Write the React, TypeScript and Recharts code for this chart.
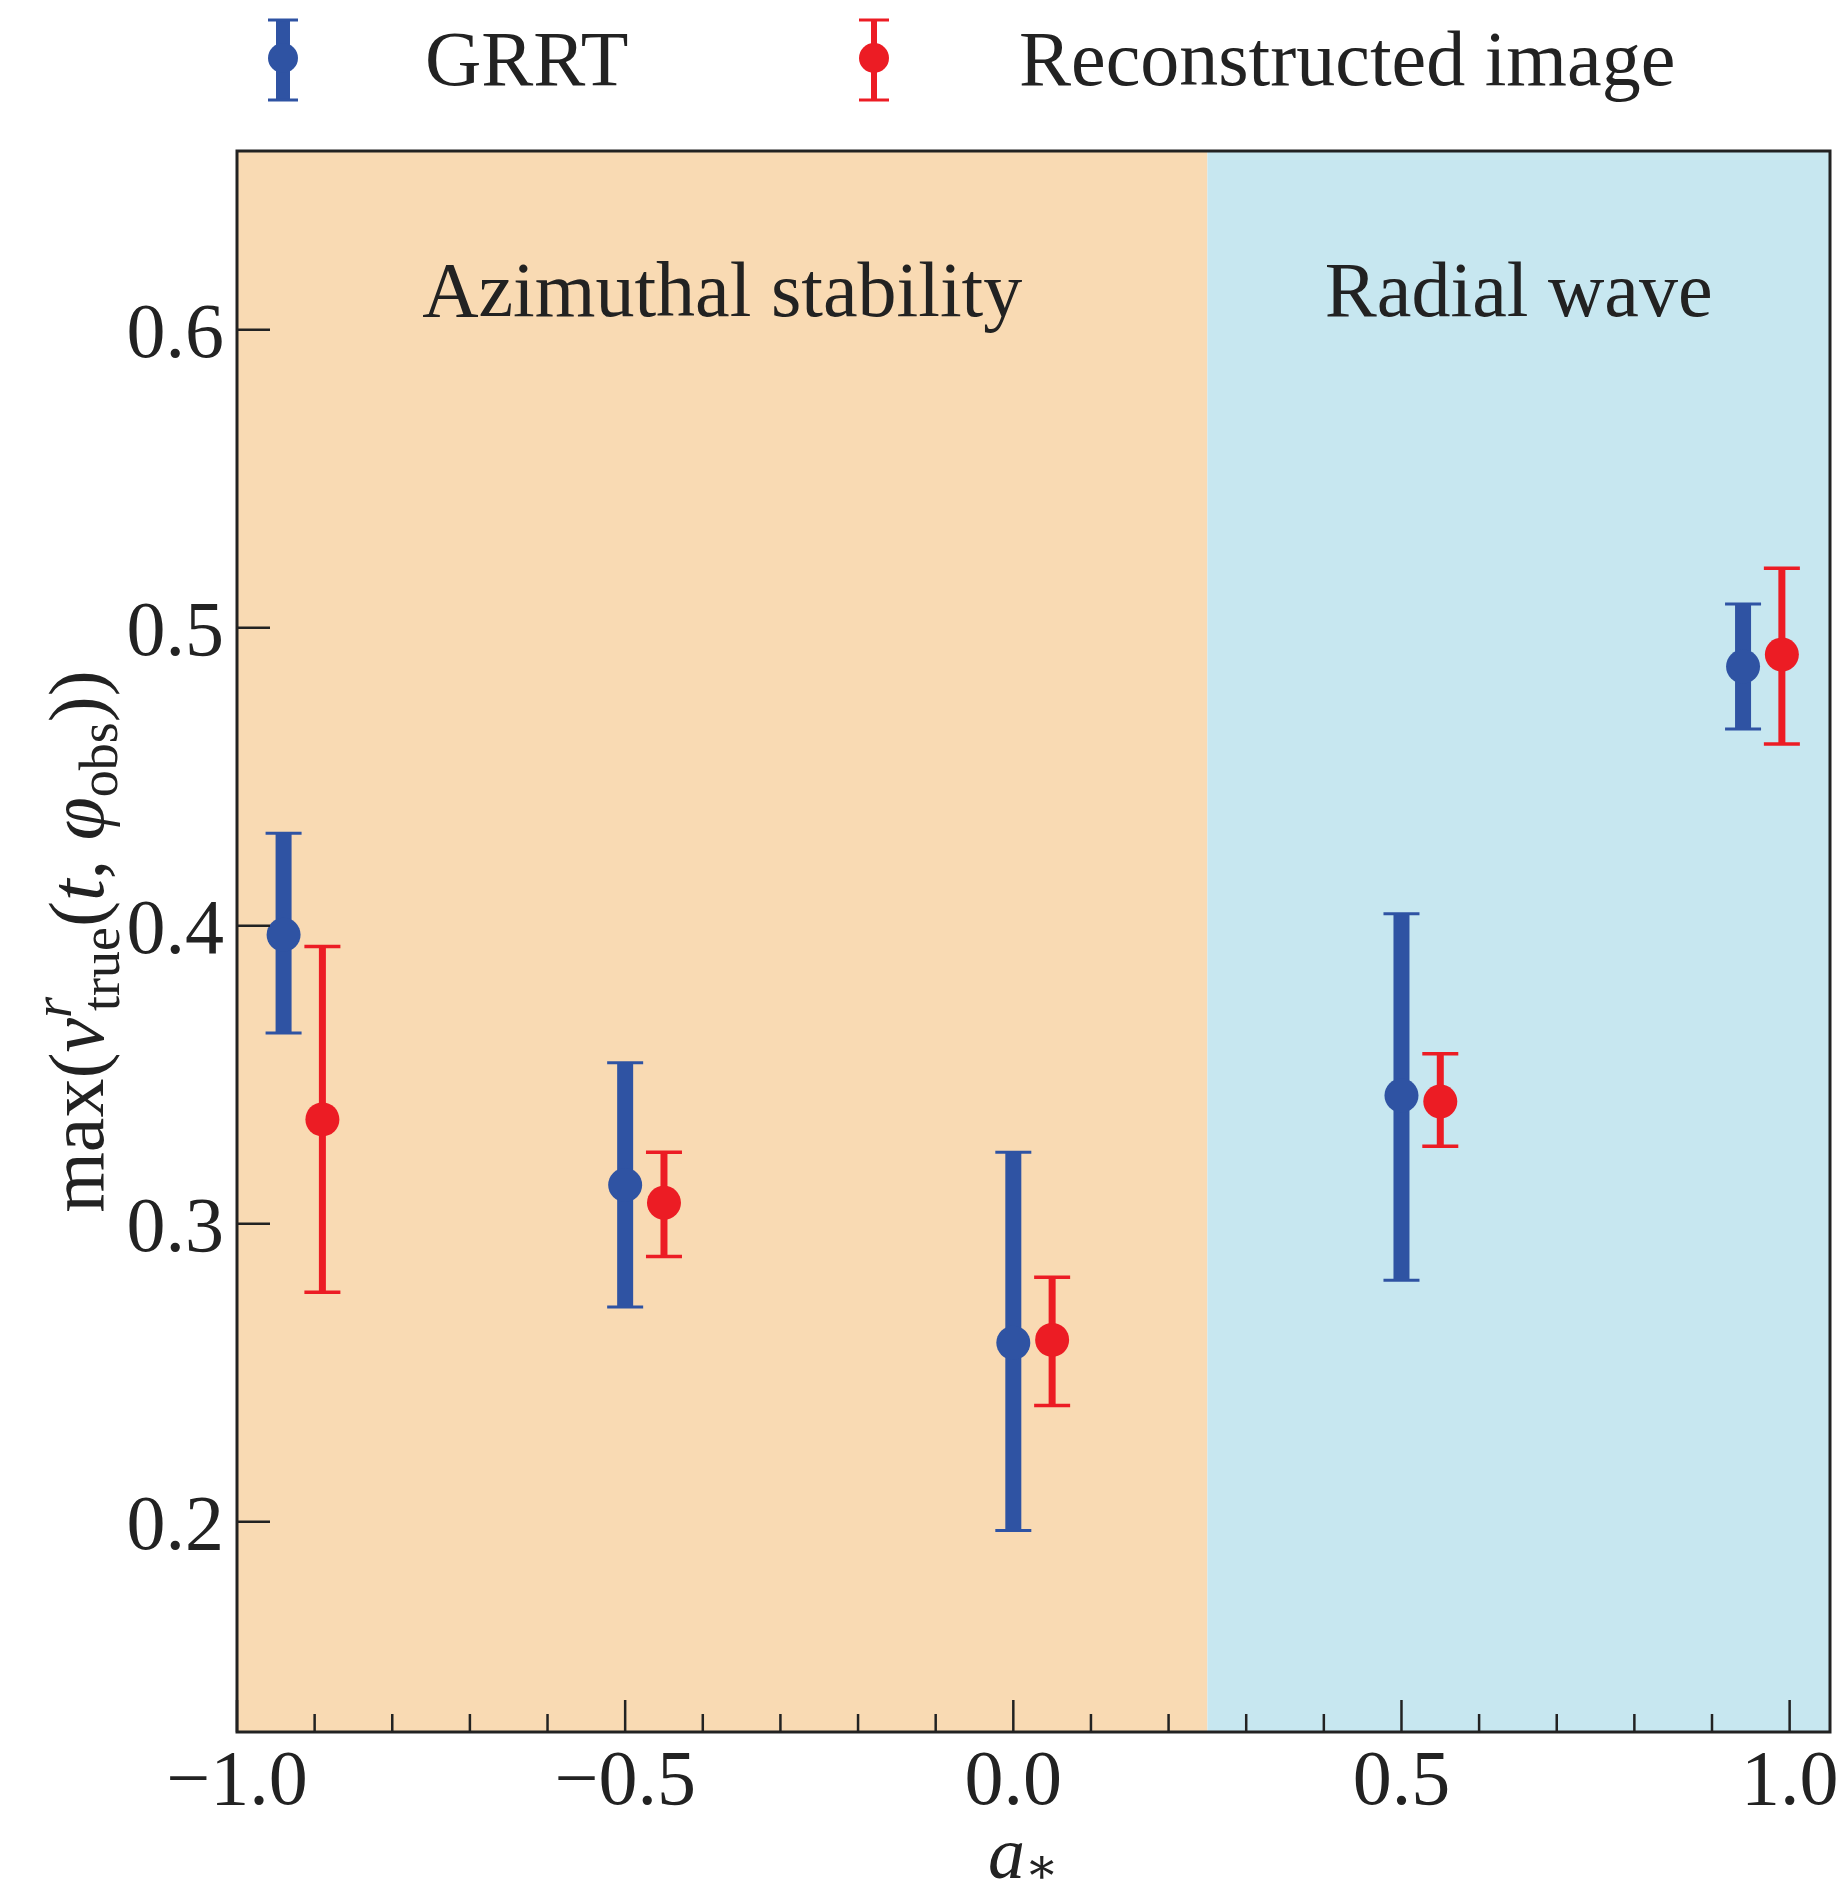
import React from "react"
import {
  ScatterChart,
  Scatter,
  XAxis,
  YAxis,
  ErrorBar,
  ReferenceArea,
  Label,
} from "recharts"

// spin values a* (the red series is shifted right a little in the figure)
const grrtSpin = [-0.94, -0.5, 0.0, 0.5, 0.94]
const grrtValue = [0.397, 0.313, 0.26, 0.343, 0.487]
const grrtLow = [0.364, 0.272, 0.197, 0.281, 0.466]
const grrtHigh = [0.431, 0.354, 0.324, 0.404, 0.508]

const recoSpin = [-0.89, -0.45, 0.05, 0.55, 0.99]
const recoValue = [0.335, 0.307, 0.261, 0.341, 0.491]
const recoLow = [0.277, 0.289, 0.239, 0.326, 0.461]
const recoHigh = [0.393, 0.324, 0.282, 0.357, 0.52]

const xTicks = [
  -1.0, -0.9, -0.8, -0.7, -0.6, -0.5, -0.4, -0.3, -0.2, -0.1, 0.0,
  0.1, 0.2, 0.3, 0.4, 0.5, 0.6, 0.7, 0.8, 0.9, 1.0,
]
const xMajor = [-1.0, -0.5, 0.0, 0.5, 1.0]
const yTicks = [0.2, 0.3, 0.4, 0.5, 0.6]

const regionSplit = 0.25
const regionNames = ["Azimuthal stability", "Radial wave"]
const seriesNames = ["GRRT", "Reconstructed image"]

const X_DOMAIN: [number, number] = [-1.0, 1.052]
const Y_DOMAIN: [number, number] = [0.1294, 0.66]

const BLUE = "#2f53a3"
const RED = "#ec1c24"
const ORANGE_BG = "#f9dab3"
const BLUE_BG = "#c7e7f0"
const INK = "#222"
const FONT = "'Liberation Serif', 'DejaVu Serif', serif"
const FS = 78

const grrtData = grrtSpin.map((x, i) => ({
  x,
  y: grrtValue[i],
  err: [grrtValue[i] - grrtLow[i], grrtHigh[i] - grrtValue[i]],
}))
const recoData = recoSpin.map((x, i) => ({
  x,
  y: recoValue[i],
  err: [recoValue[i] - recoLow[i], recoHigh[i] - recoValue[i]],
}))

const fmt = (v: number) => (v < 0 ? "\u2212" + Math.abs(v).toFixed(1) : v.toFixed(1))

const XTick = ({ x, y, payload }: any) => {
  const v = payload.value
  const major = xMajor.some((m) => Math.abs(m - v) < 1e-6)
  return (
    <g>
      <line x1={x} x2={x} y1={y} y2={y - (major ? 32 : 18)} stroke={INK} strokeWidth={2.5} />
      {major && (
        <text x={x} y={y + 72} textAnchor="middle" fontFamily={FONT} fontSize={FS} fill={INK}>
          {fmt(v)}
        </text>
      )}
    </g>
  )
}

const YTick = ({ x, y, payload }: any) => (
  <g>
    <line x1={x} x2={x + 33} y1={y} y2={y} stroke={INK} strokeWidth={2.5} />
    <text x={x - 13} y={y + 27} textAnchor="end" fontFamily={FONT} fontSize={FS} fill={INK}>
      {payload.value.toFixed(1)}
    </text>
  </g>
)

const dot = (color: string) => (props: any) => (
  <circle cx={props.cx} cy={props.cy} r={17} fill={color} />
)

const regionLabel = (text: string) => (props: any) => {
  const vb = props.viewBox
  return (
    <text
      x={vb.x + vb.width / 2}
      y={vb.y + 165}
      textAnchor="middle"
      fontFamily={FONT}
      fontSize={FS}
      fill={INK}
    >
      {text}
    </text>
  )
}

const XLabel = (props: any) => {
  const vb = props.viewBox
  return (
    <text x={vb.x + vb.width / 2 - 10} y={vb.y + 146} textAnchor="middle" fontFamily={FONT} fontSize={74} fill={INK}>
      <tspan fontStyle="italic">a</tspan>
      <tspan fontSize={50} dy={5}>∗</tspan>
    </text>
  )
}

const YLabel = (props: any) => {
  const vb = props.viewBox
  const cx = 103
  const cy = vb.y + vb.height / 2
  return (
    <text
      transform={`translate(${cx},${cy}) rotate(-90)`}
      textAnchor="middle"
      fontFamily={FONT}
      fontSize={FS}
      fill={INK}
    >
      max(
      <tspan fontStyle="italic">v</tspan>
      <tspan fontStyle="italic" fontSize={54} dy={-32}>r</tspan>
      <tspan fontSize={54} dx={-14} dy={48}>true</tspan>
      <tspan dy={-16}>(</tspan>
      <tspan fontStyle="italic">t</tspan>
      , <tspan fontStyle="italic">φ</tspan>
      <tspan fontSize={54} dy={14}>obs</tspan>
      <tspan dy={-14}>))</tspan>
    </text>
  )
}

const LegendMarker = ({ color, thick }: { color: string; thick: boolean }) => (
  <svg width={40} height={84} style={{ display: "block" }}>
    <line x1={20} x2={20} y1={2} y2={82} stroke={color} strokeWidth={thick ? 14 : 6} />
    <line x1={5} x2={35} y1={2} y2={2} stroke={color} strokeWidth={3} />
    <line x1={5} x2={35} y1={82} y2={82} stroke={color} strokeWidth={3} />
    <circle cx={20} cy={40} r={15} fill={color} />
  </svg>
)

export default function App() {
  return (
    <div style={{ position: "absolute", left: 0, top: 0, width: 1845, height: 1894, background: "#fff" }}>
      <ScatterChart width={1845} height={1894} margin={{ top: 151, right: 15, bottom: 0, left: 0 }}>
        <ReferenceArea x1={X_DOMAIN[0]} x2={regionSplit} fill={ORANGE_BG} fillOpacity={1} stroke="none" label={regionLabel(regionNames[0])} />
        <ReferenceArea x1={regionSplit} x2={X_DOMAIN[1]} fill={BLUE_BG} fillOpacity={1} stroke="none" label={regionLabel(regionNames[1])} />
        <XAxis
          type="number"
          dataKey="x"
          domain={X_DOMAIN}
          ticks={xTicks}
          interval={0}
          allowDataOverflow
          height={162}
          tickSize={0}
          tickMargin={0}
          axisLine={false}
          tickLine={false}
          tick={<XTick />}
        >
          <Label content={<XLabel />} />
        </XAxis>
        <YAxis
          type="number"
          dataKey="y"
          domain={Y_DOMAIN}
          ticks={yTicks}
          allowDataOverflow
          width={237}
          tickSize={0}
          tickMargin={0}
          axisLine={false}
          tickLine={false}
          tick={<YTick />}
        >
          <Label content={<YLabel />} />
        </YAxis>
        <ReferenceArea
          x1={X_DOMAIN[0]}
          x2={X_DOMAIN[1]}
          y1={Y_DOMAIN[0]}
          y2={Y_DOMAIN[1]}
          fill="none"
          stroke={INK}
          strokeWidth={3}
        />
        <Scatter data={grrtData} fill={BLUE} shape={dot(BLUE)} isAnimationActive={false}>
          <ErrorBar dataKey="err" direction="y" width={18} strokeWidth={3} stroke={BLUE} isAnimationActive={false} />
          <ErrorBar dataKey="err" direction="y" width={0} strokeWidth={16} stroke={BLUE} isAnimationActive={false} />
        </Scatter>
        <Scatter data={recoData} fill={RED} shape={dot(RED)} isAnimationActive={false}>
          <ErrorBar dataKey="err" direction="y" width={18} strokeWidth={3.5} stroke={RED} isAnimationActive={false} />
          <ErrorBar dataKey="err" direction="y" width={0} strokeWidth={7} stroke={RED} isAnimationActive={false} />
        </Scatter>
      </ScatterChart>

      <div style={{ position: "absolute", left: 263, top: 18 }}>
        <LegendMarker color={BLUE} thick />
      </div>
      <div style={{ position: "absolute", left: 425, top: 0, fontFamily: FONT, fontSize: FS, lineHeight: "118px", color: INK }}>
        {seriesNames[0]}
      </div>
      <div style={{ position: "absolute", left: 854, top: 18 }}>
        <LegendMarker color={RED} thick={false} />
      </div>
      <div style={{ position: "absolute", left: 1019, top: 0, fontFamily: FONT, fontSize: FS, lineHeight: "118px", color: INK }}>
        {seriesNames[1]}
      </div>
    </div>
  )
}
